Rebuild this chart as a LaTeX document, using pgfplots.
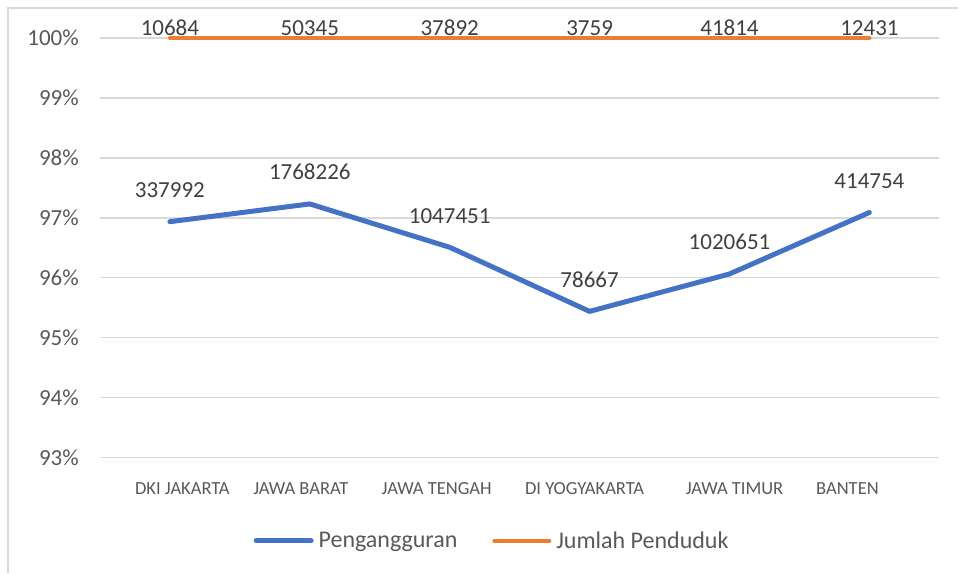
\documentclass[border=0pt]{standalone}
\usepackage{pgfplots}
\pgfplotsset{compat=1.18}
\usepackage{fontspec}
\setmainfont{Carlito}
\definecolor{cblue}{HTML}{4472C4}
\definecolor{corange}{HTML}{ED7D31}
\definecolor{cgrid}{HTML}{D9D9D9}
\definecolor{ctext}{HTML}{595959}
\definecolor{clabel}{HTML}{404040}
\begin{document}
\begin{tikzpicture}
\begin{axis}[
  at={(0bp,0bp)}, anchor=south west,
  scale only axis, width=840bp, height=420bp,
  xmin=-0.5, xmax=5.5, ymin=93, ymax=100,
  axis line style={draw=none},
  major tick length=0pt,
  ytick={93,94,95,96,97,98,99,100},
  yticklabel={\pgfmathprintnumber{\tick}\%},
  /pgf/number format/assume math mode=true,
  ymajorgrids, grid style={cgrid, line width=1.3bp},
  yticklabel style={anchor=east, inner sep=0pt, xshift=-21bp, font=\fontsize{23bp}{27bp}\selectfont, text=ctext},
  xtick={0.089,0.936,1.907,2.964,4.036,4.843},
  xticklabels={DKI JAKARTA, JAWA BARAT, JAWA TENGAH, DI YOGYAKARTA, JAWA TIMUR, BANTEN},
  xticklabel style={anchor=north, inner sep=0pt, yshift=-25bp, font=\fontsize{18.5bp}{22bp}\selectfont, text=ctext},
  clip=false,
  point meta=explicit symbolic,
  nodes near coords,
  every node near coord/.append style={anchor=base, inner sep=0pt, font=\fontsize{23bp}{27bp}\selectfont, text=clabel},
  legend columns=2,
  legend image code/.code={\draw[#1, line cap=round] (0bp,0bp) -- (55bp,0bp);},
  legend style={at={(0.466,-0.198)}, anchor=center, draw=none, fill=none,
    font=\fontsize{24bp}{28bp}\selectfont, text=ctext,
    nodes={inner sep=0pt},
    /tikz/every odd column/.append style={column sep=5bp},
    /tikz/every even column/.append style={column sep=35bp}},
]
\addplot[cblue, line width=5bp, line join=round, line cap=round,
  every node near coord/.append style={yshift=24bp}] coordinates {
  (0,96.936) [337992]
  (1,97.232) [1768226]
  (2,96.509) [1047451]
  (3,95.440) [78667]
  (4,96.064) [1020651]
  (5,97.090) [414754]
};
\addlegendentry{Pengangguran}
\addplot[corange, line width=4bp, line cap=round,
  every node near coord/.append style={yshift=2bp}] coordinates {
  (0,100) [10684]
  (1,100) [50345]
  (2,100) [37892]
  (3,100) [3759]
  (4,100) [41814]
  (5,100) [12431]
};
\addlegendentry{Jumlah Penduduk}
\end{axis}
\draw[cgrid, line width=1.3bp] (-92bp,-115bp) -- (-92bp,450bp) -- (859bp,450bp);
\useasboundingbox (-100bp,-115bp) rectangle (859bp,458bp);
\end{tikzpicture}
\end{document}
